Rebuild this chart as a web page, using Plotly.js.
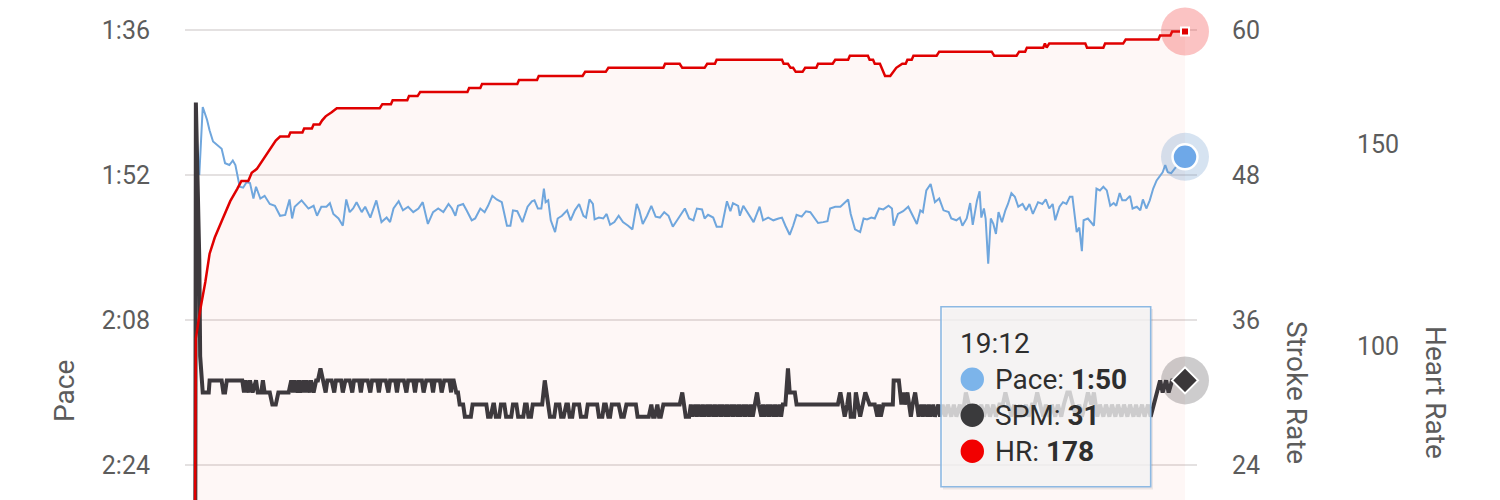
<!DOCTYPE html>
<html><head><meta charset="utf-8">
<script src="https://cdn.plot.ly/plotly-3.0.1.min.js"></script>
<style>html,body{margin:0;padding:0;background:#fff;overflow:hidden}#chart{width:1500px;height:500px}</style>
</head><body><div id="chart"></div>
<script>
// ---- DATA (time in seconds) ----
const paceT = [
5,9,14,17,21,27,31,35,40,44,
47,52,56,60,64,68,71,76,81,87,
93,99,105,110,113,116,124,132,138,142,
147,153,157,161,167,172,176,180,184,188,
194,198,204,211,217,223,227,231,237,242,
248,254,260,265,271,277,283,289,295,299,
303,306,312,316,322,326,332,337,341,346,
351,357,363,367,370,375,381,387,392,395,
399,403,406,408,411,414,419,422,427,433,
437,442,447,452,455,459,463,465,470,475,
479,483,488,493,498,504,509,514,517,521,
526,531,536,541,546,551,556,561,566,570,
575,580,584,590,593,597,603,607,613,619,
623,626,632,634,638,644,650,657,661,667,
673,679,683,687,692,696,700,706,711,716,
720,725,731,736,739,745,751,756,760,763,
768,774,778,782,787,791,796,801,807,811,
813,818,824,830,834,840,844,847,851,856,
861,866,871,877,880,886,890,893,898,902,
905,910,913,915,918,920,923,926,929,932,
935,939,943,946,950,954,958,963,967,971,
975,981,986,990,994,998,1001,1006,1010,1014,
1018,1021,1026,1029,1032,1034,1039,1043,1046,1049,
1053,1057,1061,1065,1069,1072,1076,1079,1083,1088,
1091,1096,1100,1103,1107,1111,1115,1119,1123,1126,
1129,1132,1136,1140,1152];
const paceSec = [
112,104.5,105.9,107.1,108.3,108.8,109.1,110.7,110.9,110.4,
110.9,113.3,113.4,112.8,112.9,114.6,113.3,114.6,114.3,115.2,
115.4,116.5,116.4,114.7,116.8,115.5,114.8,115.7,115.4,116.5,
115.5,115.5,115.1,116.3,116.8,117.6,114.7,116.1,115.7,115,
116.1,115.5,116.7,114.8,117.2,116.7,117.2,115.7,114.9,115.9,
115.5,116.1,115.7,115,117.4,116.1,115.7,116.1,115.2,115.7,
116.5,115.4,115.2,115.9,117,116.8,115.7,116.1,115.4,114.3,
114.7,115,117.6,117.6,115.9,116,117.2,115.5,114.9,114.8,
115.7,115.7,113.5,115,114.8,117,118.3,116.8,116.5,115.9,
117,115.9,115.2,116.5,116.7,114.7,115.2,116.9,116.7,116.8,
116.3,117.5,117.2,116.5,117.2,117.6,118,115.2,115.9,117.4,
116.5,115.4,116.6,116.7,116.1,116.5,117.7,117,116.3,115.7,
116.8,117,115.7,115.8,116.8,116.4,116.7,117.7,117.7,114.9,
116,115.1,115.4,116.5,115.4,116.3,117.2,115.5,117,116.7,
117,116.8,116.7,117.6,118.6,117.6,116.4,116.6,116,116.1,
116.6,117.3,117.2,117.1,115.7,115.5,115.5,115,114.7,116.3,
118,118.3,116.8,116.9,116.7,116.8,115.7,115.8,115.4,115.7,
117.6,116.3,116,115.5,116.3,117.4,115.9,116.1,113.7,113,
115,114.6,115.9,116.1,116.8,117,116.7,117.6,116.8,115.1,
117.5,114.8,113.8,116.7,115.7,116.8,121.8,116.8,117.4,118.5,
116.1,117.2,115.9,115.2,114,114.4,115.5,115.2,115.9,115.2,
116.3,115,115.2,114.7,115.7,115.2,117,115.5,115,115.2,
114.4,114.4,118.3,117.8,120.4,117,116.8,117.2,117.6,113.5,
113.7,113.3,113.7,115.4,115.1,115.4,114,114.8,114.8,114.3,
115.7,115.5,115.9,114.7,115.7,114.8,113.5,112.6,112,111.7,
110.9,111.7,111.8,111.3,110];

const spmT = [
0,1,5,6,9,16,17,31,33,35,
37,55,57,59,62,64,67,71,73,77,
79,81,87,90,94,97,109,112,114,116,
119,121,123,126,128,130,133,135,138,141,
143,146,149,152,154,159,162,164,170,172,
175,180,183,185,191,193,195,201,204,206,
212,214,216,222,225,227,233,235,237,243,
246,248,254,256,258,264,266,269,275,277,
279,285,287,290,296,298,299,301,304,306,
308,312,314,321,323,339,341,344,347,348,
350,354,356,360,362,368,370,374,376,382,
384,386,388,391,393,404,407,411,413,418,
420,424,426,429,432,434,436,439,441,447,
449,455,457,468,470,474,476,478,481,483,
485,493,496,499,502,513,515,528,531,533,
535,538,540,542,545,564,567,569,571,575,
577,579,582,584,586,589,591,593,596,598,
600,603,605,607,610,612,614,617,619,621,
624,626,628,631,633,635,638,640,642,645,
647,649,652,654,656,659,661,663,666,668,
670,673,675,677,680,682,684,687,690,692,
696,698,700,748,751,753,756,759,761,763,
767,769,771,774,777,780,785,791,794,796,
798,801,812,813,819,822,824,826,829,831,
833,835,838,840,842,845,847,849,852,854,
856,859,861,865,867,870,873,876,880,883,
886,890,893,897,900,904,908,911,915,918,
922,925,929,932,936,940,943,946,950,953,
957,960,963,967,970,974,977,980,983,987,
990,994,997,1001,1004,1008,1011,1015,1018,1022,
1025,1029,1032,1036,1039,1043,1046,1050,1053,1057,
1060,1064,1067,1071,1074,1078,1081,1085,1088,1092,
1095,1098,1102,1105,1109,1112,1116,1119,1123,1126,
1130,1133,1137,1152];
const spmVal = [
0,54,41,33,30,30,31,31,30,30,
31,31,30,31,30,31,30,31,30,30,
31,30,30,29,29,30,30,31,30,31,
30,31,30,31,30,31,30,31,30,31,
31,32,31,30,31,31,30,31,31,30,
31,31,30,31,31,30,31,31,30,31,
31,30,31,31,30,31,31,30,31,31,
30,31,31,30,31,31,30,31,31,30,
31,31,30,31,31,30,31,31,30,30,
29,29,28,28,29,29,28,28,29,29,
28,28,29,29,28,28,29,29,28,28,
29,29,28,28,29,29,31,29,28,28,
29,29,28,28,29,29,28,28,29,29,
28,28,29,29,28,28,29,29,28,28,
29,29,28,28,29,29,28,28,29,28,
28,29,28,28,29,29,30,29,28,28,
29,28,29,28,29,28,29,28,29,28,
29,28,29,28,29,28,29,28,29,28,
29,28,29,28,29,28,29,28,29,28,
29,28,29,30,29,28,29,28,29,28,
29,28,29,28,29,28,29,29,32,30,
30,30,29,29,30,29,28,29,30,28,
28,30,29,28,29,30,29,29,28,29,
28,29,29,31,31,29,30,29,30,29,
28,29,30,29,28,29,28,29,28,29,
28,29,28,29,28,29,28,29,28,29,
28,29,28,30,29,28,29,28,29,28,
29,28,29,28,29,29,30,29,28,29,
28,29,28,29,28,29,29,30,29,28,
29,28,29,28,29,28,29,30,30,29,
28,29,28,29,30,29,30,28,29,28,
29,28,29,28,29,28,29,28,29,28,
29,28,29,28,29,28,29,30,31,30,
31,30,31,31];

const hrT = [
0,1,6,12,17,23,31,41,49,54,
62,66,72,78,84,90,94,99,109,111,
125,127,136,138,145,148,152,159,165,215,
218,228,230,247,249,259,262,317,319,332,
334,375,377,398,400,451,454,478,481,545,
547,564,567,593,596,605,607,683,685,690,
693,696,699,707,710,723,725,742,745,760,
762,783,785,789,791,797,799,803,809,812,
816,823,827,829,834,836,863,866,927,930,
956,959,966,968,987,989,991,994,1036,1038,
1057,1059,1080,1083,1121,1123,1135,1137,1152];
const hrVal = [
58,102,109,116,123,127,131,136,139,141,
141,143,144,146,148,150,151,152,152,153,
153,154,154,155,155,156,157,158,159,159,
160,160,161,161,162,162,163,163,164,164,
165,165,166,166,167,167,168,168,169,169,
170,170,169,169,170,170,171,171,170,170,
169,169,168,168,169,169,170,170,171,171,
172,172,171,171,170,170,169,167,167,168,
169,170,170,171,171,172,172,173,173,172,
172,173,173,174,174,175,174,175,175,174,
174,175,175,176,176,177,177,178,178];

const paceTicks = [96,112,128,144];
const paceTickText = ['1:36','1:52','2:08','2:24'];
const spmTicks = [24,36,48,60];
const hrTicks = [100,150];

// ---- helpers ----
function mmss(s){const m=Math.floor(s/60);const r=Math.round(s-m*60);return m+':'+String(r).padStart(2,'0');}
const W=1500,H=500,L=185,R=40,T=20,B=0;
const PW=W-L-R, PH=H-T-B;
const px=X=>(X-L)/PW, py=Y=>(H-B-Y)/PH;
const last=a=>a[a.length-1];

const C_PACE='#6fa6dd', C_SPM='#3d393d', C_HR='#e00000';
const txt='#5c5c5c', FONT='Roboto, "Noto Sans", sans-serif';

const traces=[
 {x:hrT,y:hrVal,yaxis:'y',mode:'lines',line:{width:0},fill:'tozeroy',fillcolor:'rgba(228,40,20,0.04)',hoverinfo:'skip'},
 {x:paceT,y:paceSec,yaxis:'y2',mode:'lines',line:{color:C_PACE,width:2},hoverinfo:'skip'},
 {x:[last(paceT)],y:[last(paceSec)],yaxis:'y2',mode:'markers',cliponaxis:false,marker:{size:48,color:'rgba(105,150,205,0.27)'},hoverinfo:'skip'},
 {x:[last(paceT)],y:[last(paceSec)],yaxis:'y2',mode:'markers',cliponaxis:false,marker:{size:25,color:'#6ea8e8',line:{color:'#fff',width:2.5}},hoverinfo:'skip'},
 {x:spmT,y:spmVal,yaxis:'y3',mode:'lines',line:{color:C_SPM,width:4},hoverinfo:'skip'},
 {x:[last(spmT)],y:[last(spmVal)],yaxis:'y3',mode:'markers',cliponaxis:false,marker:{size:48,color:'rgba(70,66,70,0.27)'},hoverinfo:'skip'},
 {x:[last(spmT)],y:[last(spmVal)],yaxis:'y3',mode:'markers',cliponaxis:false,marker:{symbol:'diamond',size:20,color:'#3a3739',line:{color:'#fff',width:2}},hoverinfo:'skip'},
 {x:hrT,y:hrVal,yaxis:'y4',mode:'lines',line:{color:C_HR,width:2.5},hoverinfo:'skip'},
 {x:[last(hrT)],y:[last(hrVal)],yaxis:'y4',mode:'markers',cliponaxis:false,marker:{size:48,color:'rgba(240,40,40,0.28)'},hoverinfo:'skip'},
 {x:[last(hrT)],y:[last(hrVal)],yaxis:'y4',mode:'markers',cliponaxis:false,marker:{symbol:'square',size:8,color:C_HR,line:{color:'#fff',width:2}},hoverinfo:'skip'}
];

const hrRange=[62.03,180.84];
const tf={family:FONT,size:25,color:txt};
const layout={
 width:W,height:H,margin:{l:L,r:R,t:T,b:B,pad:0},
 paper_bgcolor:'#fff',plot_bgcolor:'rgba(0,0,0,0)',showlegend:false,
 font:{family:FONT,color:txt,size:25},
 xaxis:{domain:[0,(1197-L)/PW],range:[-11.64,1165.96],visible:false,fixedrange:true},
 yaxis:{range:hrRange,visible:false,fixedrange:true},
 yaxis2:{overlaying:'y',side:'left',anchor:'x',range:[147.86,94.9],tickvals:paceTicks,ticktext:paceTickText,
   showgrid:true,gridcolor:'#e4e1e1',gridwidth:1.6,zeroline:false,showline:false,ticks:'',ticklabelstandoff:34,tickfont:tf,fixedrange:true},
 yaxis3:{overlaying:'y',side:'right',anchor:'x',range:[21.1,60.83],tickvals:spmTicks,showgrid:false,zeroline:false,showline:false,ticks:'',ticklabelstandoff:34,tickfont:tf,fixedrange:true},
 yaxis4:{overlaying:'y',side:'right',anchor:'free',position:px(1340),range:hrRange,tickvals:hrTicks,showgrid:false,zeroline:false,showline:false,ticks:'',ticklabelstandoff:16,tickfont:tf,fixedrange:true},
 shapes:[
  {type:'rect',xref:'paper',yref:'paper',x0:px(943),x1:px(1153),y0:py(489.5),y1:py(309),fillcolor:'rgba(0,0,0,0.07)',line:{width:0},layer:'above'},
  {type:'rect',xref:'paper',yref:'paper',x0:px(941),x1:px(1150.7),y0:py(486.7),y1:py(306.7),fillcolor:'rgba(247,247,247,0.78)',line:{color:'#8db9e3',width:1.6},layer:'above'},
  {type:'circle',xref:'paper',yref:'paper',xsizemode:'pixel',ysizemode:'pixel',xanchor:px(972.3),yanchor:py(379.3),x0:-11.7,x1:11.7,y0:-11.7,y1:11.7,fillcolor:'#7cb4ea',line:{width:0},layer:'above'},
  {type:'circle',xref:'paper',yref:'paper',xsizemode:'pixel',ysizemode:'pixel',xanchor:px(972.3),yanchor:py(415.3),x0:-11.7,x1:11.7,y0:-11.7,y1:11.7,fillcolor:'#3a3a3c',line:{width:0},layer:'above'},
  {type:'circle',xref:'paper',yref:'paper',xsizemode:'pixel',ysizemode:'pixel',xanchor:px(972.3),yanchor:py(451.3),x0:-11.7,x1:11.7,y0:-11.7,y1:11.7,fillcolor:'#f20000',line:{width:0},layer:'above'}
 ],
 annotations:[
  {text:'Pace',xref:'paper',yref:'paper',x:px(64),y:py(391),textangle:-90,showarrow:false,xanchor:'center',yanchor:'middle',font:{family:FONT,size:28,color:txt}},
  {text:'Stroke Rate',xref:'paper',yref:'paper',x:px(1297),y:py(392),textangle:90,showarrow:false,xanchor:'center',yanchor:'middle',font:{family:FONT,size:28,color:txt}},
  {text:'Heart Rate',xref:'paper',yref:'paper',x:px(1436),y:py(392),textangle:90,showarrow:false,xanchor:'center',yanchor:'middle',font:{family:FONT,size:28,color:txt}},
  {text:mmss(last(paceT)),xref:'paper',yref:'paper',x:px(958),y:py(343),showarrow:false,xanchor:'left',yanchor:'middle',font:{family:FONT,size:28,color:'#2e2e2e'}},
  {text:'Pace: <b>'+mmss(last(paceSec))+'</b>',xref:'paper',yref:'paper',x:px(993),y:py(379),showarrow:false,xanchor:'left',yanchor:'middle',font:{family:FONT,size:28,color:'#2e2e2e'}},
  {text:'SPM: <b>'+last(spmVal)+'</b>',xref:'paper',yref:'paper',x:px(993),y:py(415),showarrow:false,xanchor:'left',yanchor:'middle',font:{family:FONT,size:28,color:'#2e2e2e'}},
  {text:'HR: <b>'+last(hrVal)+'</b>',xref:'paper',yref:'paper',x:px(993),y:py(451),showarrow:false,xanchor:'left',yanchor:'middle',font:{family:FONT,size:28,color:'#2e2e2e'}}
 ]
};
Plotly.newPlot('chart',traces,layout,{displayModeBar:false,staticPlot:true});
</script></body></html>
